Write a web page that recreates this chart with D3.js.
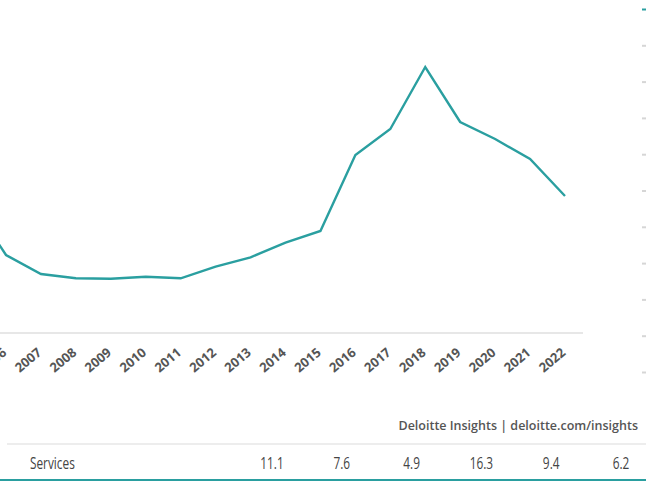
<!DOCTYPE html>
<html>
<head>
<meta charset="utf-8">
<script src="https://cdn.jsdelivr.net/npm/d3@7"></script>
<style>
  html, body { margin: 0; padding: 0; background: #fff; }
  svg { display: block; }
</style>
</head>
<body>
<svg id="chart" width="646" height="481"></svg>
<script>
// ---- data ----
const years = [2005, 2006, 2007, 2008, 2009, 2010, 2011, 2012, 2013, 2014, 2015, 2016, 2017, 2018, 2019, 2020, 2021, 2022];
const values = [13.1, 7.8, 5.9, 5.47, 5.43, 5.63, 5.47, 6.63, 7.57, 9.03, 10.2, 17.8, 20.4, 26.6, 21.1, 19.4, 17.4, 13.7];
const yearLabels = [2006, 2007, 2008, 2009, 2010, 2011, 2012, 2013, 2014, 2015, 2016, 2017, 2018, 2019, 2020, 2021, 2022];
const tableLabel = "Services";
const tableValues = ["11.1", "7.6", "4.9", "16.3", "9.4", "6.2"];
const sideTicks = [0, 1, 2, 3, 4, 5, 6, 7, 8, 9, 10];
const sourceText = "Deloitte Insights | deloitte.com/insights";

// ---- drawing ----
const svg = d3.select("#chart");
const teal = "#2a9fa0";

const x = d3.scaleLinear().domain([2006, 2022]).range([6, 565]);
const y = d3.scaleLinear().domain([0, 30]).range([333, 33]);

// baseline axis
svg.append("line")
  .attr("x1", 0).attr("x2", 583)
  .attr("y1", y(0)).attr("y2", y(0))
  .attr("stroke", "#cfcfcf").attr("stroke-width", 1.2);

// year labels
const xAxis = d3.axisBottom(x).tickValues(yearLabels).tickFormat(d3.format("d")).tickSize(0).tickPadding(0);
const gx = svg.append("g").attr("transform", `translate(0,${y(0)})`).call(xAxis);
gx.select(".domain").remove();
gx.selectAll(".tick text")
  .attr("font-family", "'Open Sans', sans-serif")
  .attr("font-weight", 700)
  .attr("font-size", 13)
  .attr("fill", "#555")
  .attr("text-anchor", "end")
  .attr("dy", 0)
  .attr("y", 0)
  .attr("transform", "translate(1,21) rotate(-40)");

// line
const line = d3.line().x((d, i) => x(years[i])).y(d => y(d));
svg.append("path")
  .datum(values)
  .attr("d", line)
  .attr("fill", "none")
  .attr("stroke", teal)
  .attr("stroke-width", 2.4)
  .attr("stroke-linejoin", "miter");

// right-side tick dashes (neighbouring panel)
const ys = d3.scaleLinear().domain([0, 10]).range([9, 372]);
const gs = svg.append("g").attr("transform", "translate(646,0)")
  .call(d3.axisLeft(ys).tickValues(sideTicks).tickSize(4).tickFormat(""));
gs.select(".domain").remove();
gs.selectAll(".tick line")
  .attr("stroke", (d, i) => i === 0 ? teal : "#d6d6d6")
  .attr("stroke-width", 2);

// source text
svg.append("text")
  .attr("x", 638).attr("y", 430)
  .attr("text-anchor", "end")
  .attr("font-family", "'Open Sans', sans-serif")
  .attr("font-weight", 600)
  .attr("font-size", 12.5)
  .attr("fill", "#555")
  .text(sourceText);

// table
svg.append("line")
  .attr("x1", 7).attr("x2", 646)
  .attr("y1", 444).attr("y2", 444)
  .attr("stroke", "#dcdcdc").attr("stroke-width", 1.2);

const sx = 0.74;
const tg = svg.append("g").attr("transform", `scale(${sx},1)`);
const tableFont = "'Open Sans', sans-serif";

tg.append("text")
  .attr("x", 30 / sx).attr("y", 469)
  .attr("font-family", tableFont)
  .attr("font-weight", 400)
  .attr("font-size", 16)
  .attr("fill", "#444")
  .text(tableLabel);

const xt = d3.scalePoint().domain(d3.range(tableValues.length)).range([272, 621]);
tg.selectAll("text.val")
  .data(tableValues)
  .join("text")
  .attr("class", "val")
  .attr("x", (d, i) => xt(i) / sx)
  .attr("y", 469)
  .attr("text-anchor", "middle")
  .attr("font-family", tableFont)
  .attr("font-weight", 400)
  .attr("font-size", 16)
  .attr("fill", "#444")
  .text(d => d);

svg.append("line")
  .attr("x1", 0).attr("x2", 646)
  .attr("y1", 480).attr("y2", 480)
  .attr("stroke", teal).attr("stroke-width", 2);
</script>
</body>
</html>
